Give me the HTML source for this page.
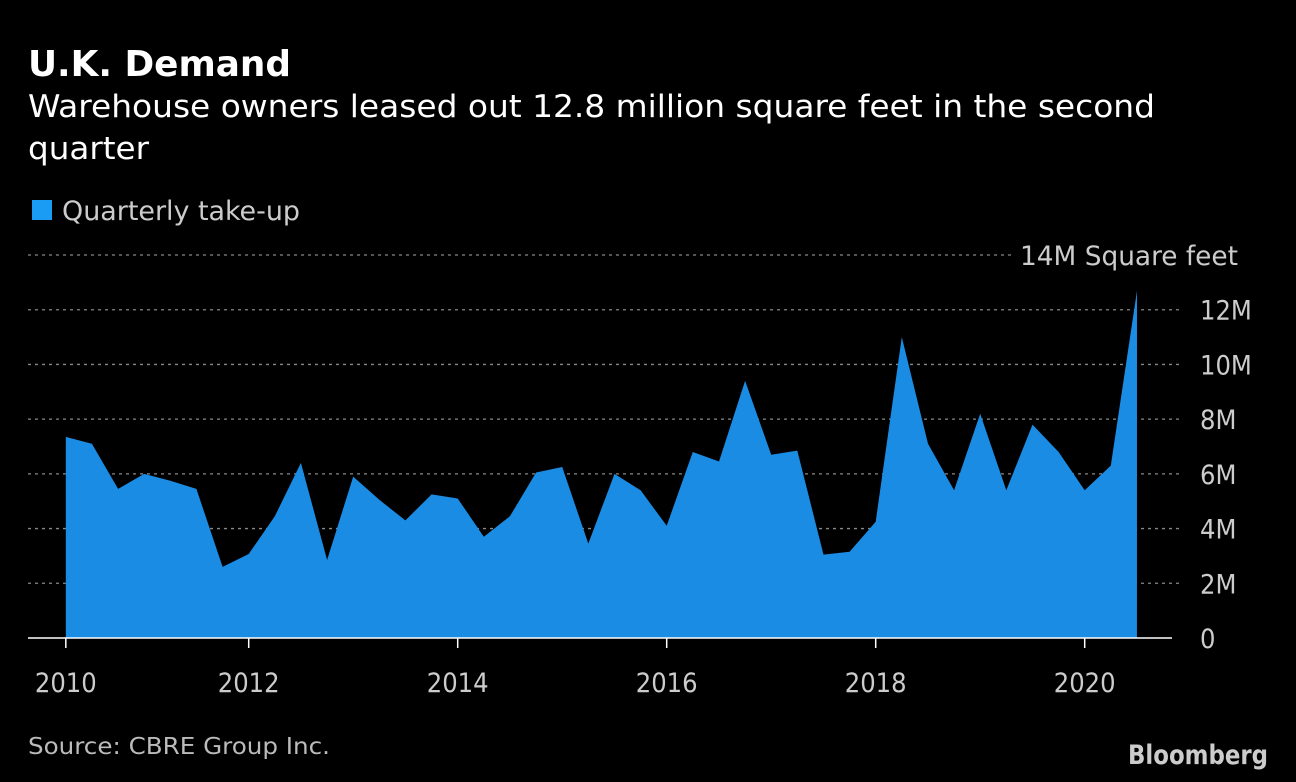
<!DOCTYPE html>
<html><head><meta charset="utf-8"><style>
html,body{margin:0;padding:0;background:#000;width:1296px;height:782px;overflow:hidden}
text{font-family:"DejaVu Sans Condensed","Liberation Sans",sans-serif}
</style></head><body>
<svg id="chart" width="1296" height="782" xmlns="http://www.w3.org/2000/svg">
<text x="28" y="76" fill="#fff" font-size="36" font-weight="bold" textLength="263" lengthAdjust="spacingAndGlyphs">U.K. Demand</text>
<text x="28" y="117" fill="#fff" font-size="31" textLength="1127" lengthAdjust="spacingAndGlyphs">Warehouse owners leased out 12.8 million square feet in the second</text>
<text x="28" y="159" fill="#fff" font-size="31" textLength="121" lengthAdjust="spacingAndGlyphs">quarter</text>
<rect x="32" y="200" width="20" height="20" fill="#1a9cf5"/>
<text x="62" y="220" fill="#ccc" font-size="27" textLength="238" lengthAdjust="spacingAndGlyphs">Quarterly take-up</text>
<g id="grid"></g>
<path id="area" fill="#1a8ce4"/>
<line x1="28" x2="1172" y1="638" y2="638" stroke="#fff" stroke-width="1.5"/>
<g id="xaxis"></g>
<text x="28" y="754" fill="#bbb" font-size="23" textLength="302" lengthAdjust="spacingAndGlyphs">Source: CBRE Group Inc.</text>
<text x="1268" y="764" fill="#ccc" font-size="27" font-weight="bold" text-anchor="end" textLength="140" lengthAdjust="spacingAndGlyphs">Bloomberg</text>
</svg>
<script>
const values=[7.35,7.1,5.45,6.0,5.75,5.45,2.6,3.07,4.45,6.4,2.85,5.9,5.05,4.3,5.25,5.1,3.7,4.45,6.05,6.25,3.45,6.0,5.4,4.1,6.8,6.45,9.4,6.7,6.85,3.05,3.15,4.25,11.0,7.1,5.4,8.2,5.4,7.8,6.8,5.4,6.3,12.7];
const yTicks=[0,2,4,6,8,10,12,14];
const yTickLabels=["0","2M","4M","6M","8M","10M","12M","14M Square feet"];
const xYears=[2010,2012,2014,2016,2018,2020];
const startYear=2010.25, step=0.25;
const NS="http://www.w3.org/2000/svg";
function y(v){return 638-v*(638-255)/14;}
function xYear(t){return 248.7+(t-2012)*104.5;}
function xIdx(i){return xYear(startYear+i*step);}
const grid=document.getElementById('grid');
yTicks.forEach((t,k)=>{
  const top=k===yTicks.length-1;
  if(t>0){
    const l=document.createElementNS(NS,'line');
    
    
    l.setAttribute('x1',28);l.setAttribute('x2',top?1012:1180);
    l.setAttribute('y1',y(t));l.setAttribute('y2',y(t));
    l.setAttribute('stroke','#888');l.setAttribute('stroke-dasharray','3,4');l.setAttribute('stroke-width','1.3');
    grid.appendChild(l);
  }
  const tx=document.createElementNS(NS,'text');
  
  
  tx.setAttribute('x',top?1020:1200);tx.setAttribute('y',y(t)+10);
  tx.setAttribute('fill','#ccc');tx.setAttribute('font-size','27');
  if(top){tx.setAttribute('textLength','218');tx.setAttribute('lengthAdjust','spacingAndGlyphs');}
  tx.textContent=yTickLabels[k];
  grid.appendChild(tx);
});
let d='M'+xIdx(0)+','+y(0);
values.forEach((v,i)=>{d+=' L'+xIdx(i).toFixed(1)+','+y(v).toFixed(1);});
d+=' L'+xIdx(values.length-1)+','+y(0)+' Z';
document.getElementById('area').setAttribute('d',d);
const xa=document.getElementById('xaxis');
xYears.forEach(yr=>{
  const px=Math.max(xYear(yr),xIdx(0));
  const l=document.createElementNS(NS,'line');
  
  
  l.setAttribute('x1',px);l.setAttribute('x2',px);l.setAttribute('y1',638);l.setAttribute('y2',648);
  l.setAttribute('stroke','#fff');l.setAttribute('stroke-width','1.5');
  xa.appendChild(l);
  const tx=document.createElementNS(NS,'text');
  
  
  tx.setAttribute('x',px);tx.setAttribute('y',692);
  tx.setAttribute('fill','#ccc');tx.setAttribute('font-size','27');tx.setAttribute('text-anchor','middle');
  tx.textContent=yr;
  xa.appendChild(tx);
});
</script>
</body></html>
